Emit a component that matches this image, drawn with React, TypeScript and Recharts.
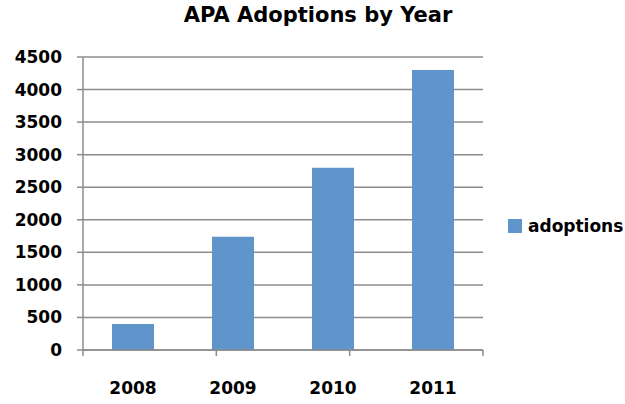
import { BarChart, Bar, XAxis, YAxis, CartesianGrid } from 'recharts';

const years = ['2008', '2009', '2010', '2011'];
const adoptions = [400, 1740, 2800, 4300];
const yTicks = [0, 500, 1000, 1500, 2000, 2500, 3000, 3500, 4000, 4500];
// tick marks between categories (Excel style)
const edgeTicks = [0, 1, 2, 3, 4];

const data = years.map((year, i) => ({ year, adoptions: adoptions[i] }));

const FONT = '"DejaVu Sans", sans-serif';
const GRID = '#8c8c8c';
const BAR = '#5f95cb';
const PLOT_LEFT = 83;
const PLOT_RIGHT = 483;

function EdgeTick(props: any) {
  const { x, y } = props;
  if (x < PLOT_LEFT - 1 || x > PLOT_RIGHT + 1) return <g />;
  return <line x1={x} x2={x} y1={y} y2={y + 6} stroke={GRID} strokeWidth={1.5} />;
}

export default function App() {
  return (
    <div style={{ position: 'absolute', left: 0, top: 0, width: 625, height: 404, background: '#fff' }}>
      <div
        style={{
          position: 'absolute',
          left: 0,
          width: 636,
          top: 3,
          textAlign: 'center',
          fontFamily: FONT,
          fontWeight: 'bold',
          fontSize: 21,
          color: '#000',
        }}
      >
        APA Adoptions by Year
      </div>
      <div
        style={{
          position: 'absolute',
          left: 508,
          top: 216,
          display: 'flex',
          alignItems: 'center',
          fontFamily: FONT,
          fontWeight: 'bold',
          fontSize: 17,
          color: '#000',
        }}
      >
        <span style={{ width: 14, height: 14, background: BAR, display: 'inline-block', marginRight: 6 }} />
        adoptions
      </div>
      <BarChart
        width={625}
        height={404}
        data={data}
        margin={{ top: 57, right: 142, bottom: 0, left: 0 }}
        barCategoryGap="29%"
      >
        <CartesianGrid vertical={false} xAxisId="edges" stroke={GRID} strokeWidth={1.5} />
        <XAxis
          xAxisId="edges"
          type="number"
          domain={[0, 4]}
          allowDataOverflow
          ticks={edgeTicks}
          interval={0}
          height={1}
          tickSize={0}
          tickMargin={0}
          tick={EdgeTick}
          axisLine={{ stroke: GRID, strokeWidth: 1.5 }}
          tickLine={false}
        />
        <XAxis
          xAxisId="labels"
          dataKey="year"
          height={53}
          tickSize={6}
          tickMargin={25}
          axisLine={false}
          tickLine={false}
          tick={{ fill: '#000', fontFamily: FONT, fontWeight: 'bold', fontSize: 17 }}
        />
        <YAxis
          width={83}
          domain={[0, 4500]}
          ticks={yTicks}
          interval={0}
          tickSize={6}
          tickMargin={15}
          axisLine={{ stroke: GRID, strokeWidth: 1.5 }}
          tickLine={{ stroke: GRID, strokeWidth: 1.5 }}
          tick={{ fill: '#000', fontFamily: FONT, fontWeight: 'bold', fontSize: 17 }}
        />
        <Bar dataKey="adoptions" xAxisId="labels" fill={BAR} isAnimationActive={false} />
      </BarChart>
    </div>
  );
}
